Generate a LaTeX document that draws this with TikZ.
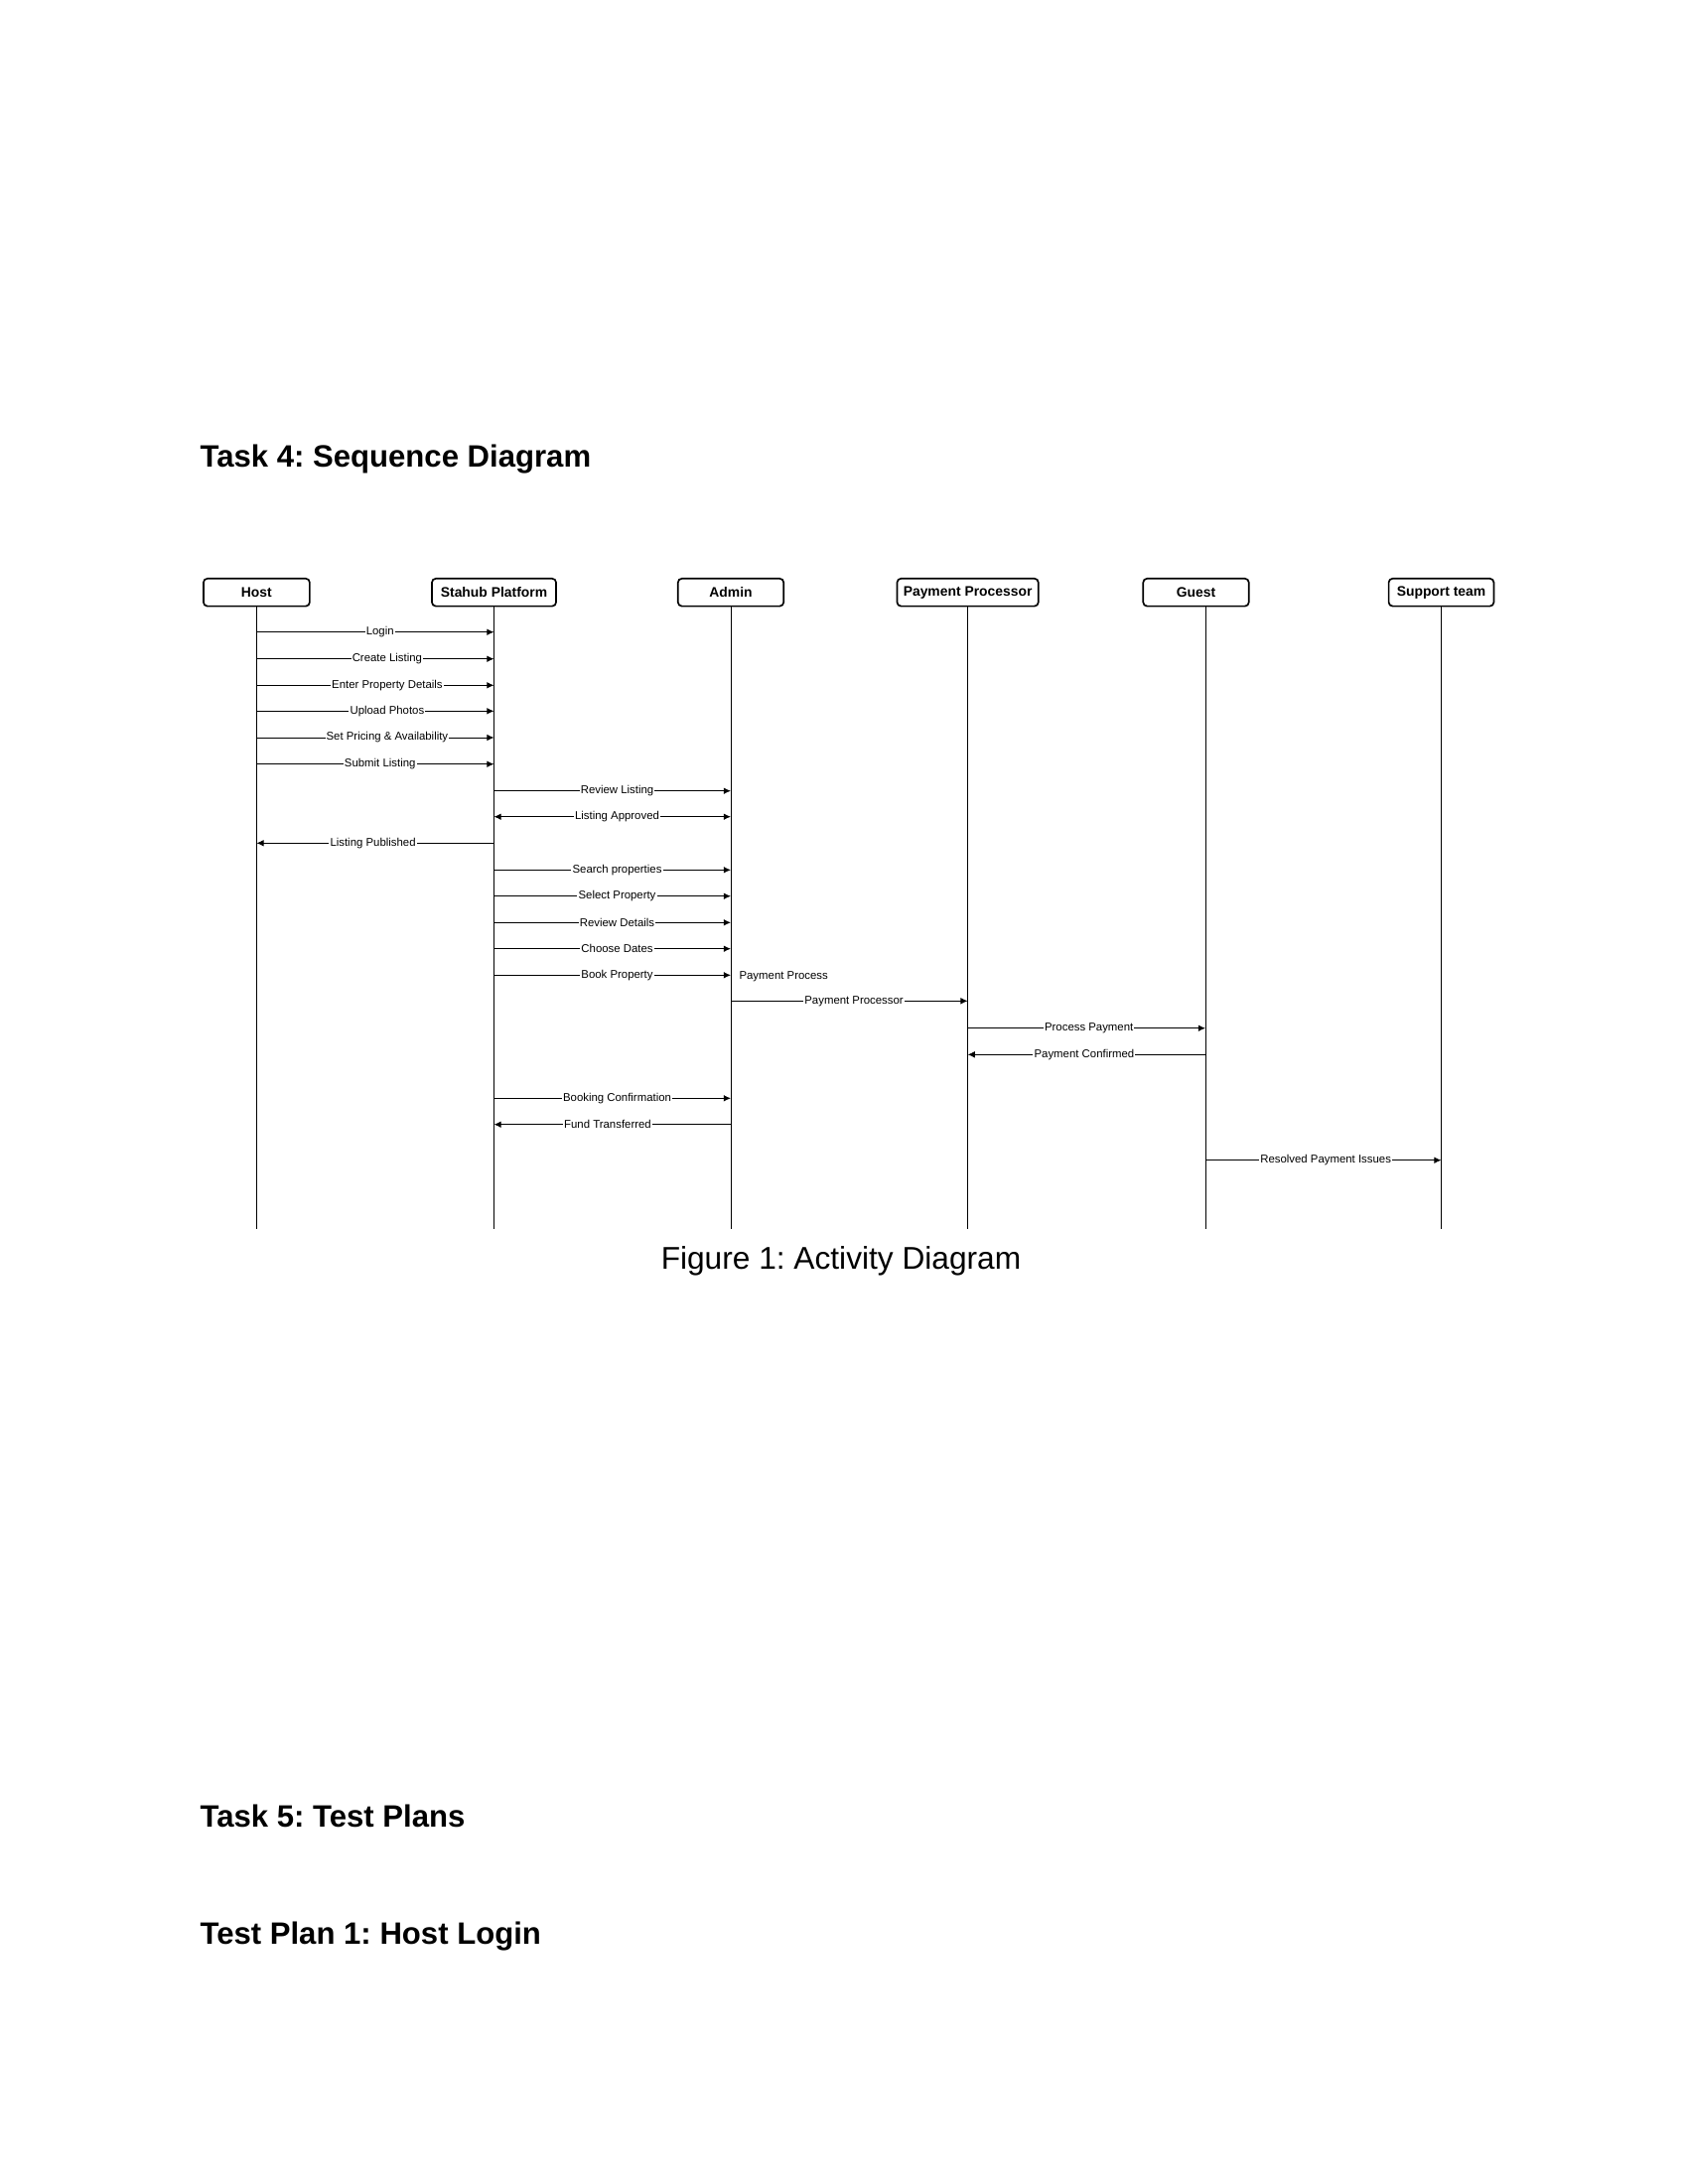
\documentclass[tikz,border=0pt]{standalone}
\usepackage{fontspec}
\setmainfont{Liberation Sans}
\usetikzlibrary{arrows.meta}
\frenchspacing

\tikzset{
  actor/.style={draw, line width=0.6pt, rounded corners=1.4pt, minimum height=10pt,
    inner sep=0pt, font=\bfseries\fontsize{5}{6}\selectfont},
  life/.style={line width=0.35pt},
  msg/.style={line width=0.35pt, -{Latex[length=2.6pt,width=2.4pt]}},
  lbl/.style={fill=white, inner sep=0.4pt, pos=.52, font=\fontsize{4.1}{5}\selectfont},
  heading/.style={anchor=base west, inner sep=0pt, font=\bfseries\fontsize{11.2}{13}\selectfont}
}

\begin{document}
\begin{tikzpicture}[x=0.36pt, y=-0.36pt]
  \useasboundingbox (0,0) rectangle (1700,2200);

  \node[heading] (task4) at (201,470.7) {Task 4: Sequence Diagram};

  % actors
  \node[actor, minimum width=38.5pt] (host) at (258.4,596.7) {Host};
  \node[actor, minimum width=45pt] (stahub) at (497.5,596.7) {Stahub Platform};
  \node[actor, minimum width=38.3pt] (admin) at (736,596.7) {Admin};
  \node[actor, minimum width=51.2pt] (payproc) at (974.6,596.7) {Payment Processor};
  \node[actor, minimum width=38.3pt] (guest) at (1204.5,596.7) {Guest};
  \node[actor, minimum width=38.1pt] (support) at (1451.5,596.7) {Support team};
  \coordinate (guestline) at (1214,610.7);

  % lifelines
  \draw[life] (host.south) -- (host.south |- 0,1238);
  \draw[life] (stahub.south) -- (stahub.south |- 0,1238);
  \draw[life] (admin.south) -- (admin.south |- 0,1238);
  \draw[life] (payproc.south) -- (payproc.south |- 0,1238);
  \draw[life] (guestline) -- (guestline |- 0,1238);
  \draw[life] (support.south) -- (support.south |- 0,1238);

  % host to platform
  \draw[msg] (host |- 0,636.7) -- node[lbl, pos=.52] (m1) {Login} (stahub |- 0,636.7);
  \draw[msg] (host |- 0,663.7) -- node[lbl, pos=.55] (m2) {Create Listing} (stahub |- 0,663.7);
  \draw[msg] (host |- 0,690.3) -- node[lbl, pos=.55] (m3) {Enter Property Details} (stahub |- 0,690.3);
  \draw[msg] (host |- 0,716.3) -- node[lbl, pos=.55] (m4) {Upload Photos} (stahub |- 0,716.3);
  \draw[msg] (host |- 0,743) -- node[lbl, pos=.55] (m5) {Set Pricing \& Availability} (stahub |- 0,743);
  \draw[msg] (host |- 0,769.7) -- node[lbl] (m6) {Submit Listing} (stahub |- 0,769.7);

  % review
  \draw[msg] (stahub |- 0,796.7) -- node[lbl] (m7) {Review Listing} (admin |- 0,796.7);
  \draw[msg, {Latex[length=2.6pt,width=2.4pt]}-{Latex[length=2.6pt,width=2.4pt]}] (stahub |- 0,822.7) -- node[lbl] (m8) {Listing Approved} (admin |- 0,822.7);
  \draw[msg] (stahub |- 0,849.3) -- node[lbl, pos=.51] (m9) {Listing Published} (host |- 0,849.3);

  % booking
  \draw[msg] (stahub |- 0,876.3) -- node[lbl] (m10) {Search properties} (admin |- 0,876.3);
  \draw[msg] (stahub |- 0,902.7) -- node[lbl] (m11) {Select Property} (admin |- 0,902.7);
  \draw[msg] (stahub |- 0,929.3) -- node[lbl] (m12) {Review Details} (admin |- 0,929.3);
  \draw[msg] (stahub |- 0,955.7) -- node[lbl] (m13) {Choose Dates} (admin |- 0,955.7);
  \draw[msg] (stahub |- 0,982.3) -- node[lbl] (m14) {Book Property} (admin |- 0,982.3);
  \node[anchor=west, inner sep=0pt, font=\fontsize{4.1}{5}\selectfont] (payprocess) at (744,984) {Payment Process};

  % payment
  \draw[msg] (admin |- 0,1008.3) -- node[lbl] (m15) {Payment Processor} (payproc |- 0,1008.3);
  \draw[msg] (payproc |- 0,1035.7) -- node[lbl, pos=.51] (m16) {Process Payment} (guestline |- 0,1035.7);
  \draw[msg] (guestline |- 0,1062.3) -- node[lbl, pos=.51] (m17) {Payment Confirmed} (payproc |- 0,1062.3);
  \draw[msg] (stahub |- 0,1106.3) -- node[lbl] (m18) {Booking Confirmation} (admin |- 0,1106.3);
  \draw[msg] (admin |- 0,1132.7) -- node[lbl] (m19) {Fund Transferred} (stahub |- 0,1132.7);
  \draw[msg] (guestline |- 0,1168.7) -- node[lbl, pos=.51] (m20) {Resolved Payment Issues} (support |- 0,1168.7);

  \node[anchor=base, inner sep=0pt, font=\fontsize{11.4}{14}\selectfont] (caption) at (847,1278) {Figure 1: Activity Diagram};

  \node[heading] (task5) at (201,1840.7) {Task 5: Test Plans};
  \node[heading] (plan1) at (201,1958.3) {Test Plan 1: Host Login};
\end{tikzpicture}
\end{document}
